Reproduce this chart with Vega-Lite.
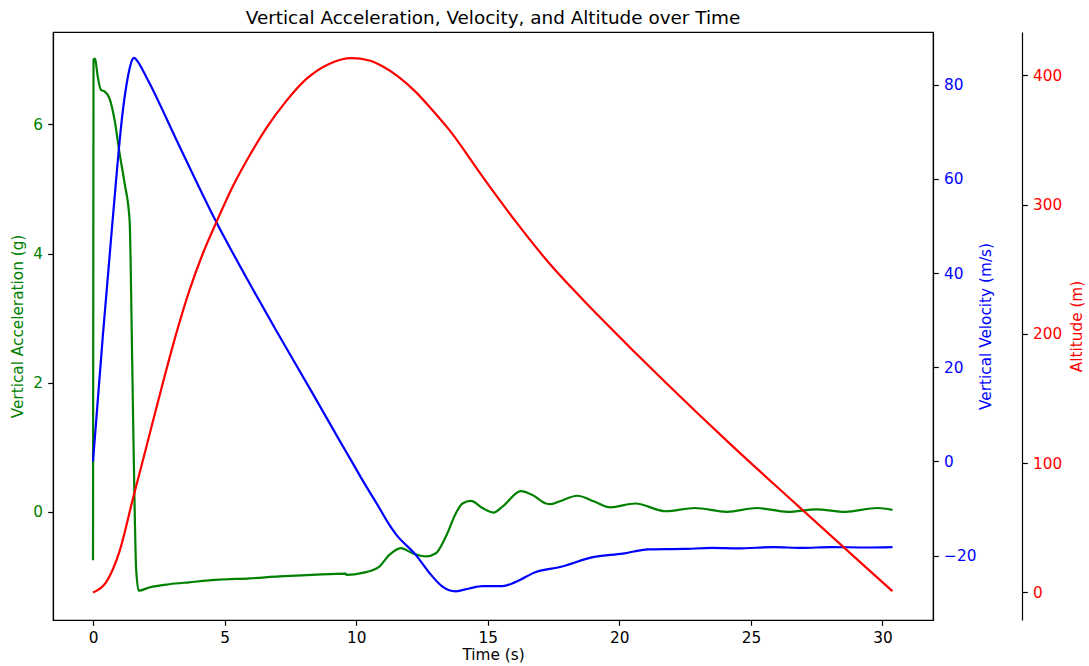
{
  "$schema": "https://vega.github.io/schema/vega-lite/v6.json",
  "width": 880,
  "height": 588,
  "autosize": "none",
  "padding": {"left": 53, "top": 32, "right": 156, "bottom": 46},
  "background": "white",
  "title": {"text": "Vertical Acceleration, Velocity, and Altitude over Time", "font": "DejaVu Sans", "fontSize": 18.4, "fontWeight": "normal", "color": "black", "anchor": "middle", "offset": 5},
  "config": {
    "view": {"stroke": "black", "strokeWidth": 1.2},
    "axis": {"grid": false, "domainColor": "black", "domainWidth": 1.2, "tickColor": "black", "tickWidth": 1.2, "tickSize": 5.3, "labelPadding": 5.3, "labelFont": "DejaVu Sans", "titleFont": "DejaVu Sans", "labelFontSize": 15.3, "titleFontSize": 15.3, "titleFontWeight": "normal", "labelColor": "black", "titleColor": "black"}
  },
  "datasets": {
    "acc": [
      {"t": 0, "a": -0.75}, {"t": 0.02, "a": 7.0}, {"t": 0.06, "a": 7.02}, {"t": 0.09, "a": 7.0}, {"t": 0.18, "a": 6.74},
      {"t": 0.31, "a": 6.53}, {"t": 0.44, "a": 6.51}, {"t": 0.63, "a": 6.4}, {"t": 0.82, "a": 6.07}, {"t": 1.01, "a": 5.55},
      {"t": 1.2, "a": 5.09}, {"t": 1.39, "a": 4.52}, {"t": 1.49, "a": 2.32}, {"t": 1.58, "a": 0.11}, {"t": 1.64, "a": -0.89},
      {"t": 1.74, "a": -1.22}, {"t": 2.14, "a": -1.17}, {"t": 2.9, "a": -1.12}, {"t": 3.66, "a": -1.09}, {"t": 4.8, "a": -1.05},
      {"t": 5.95, "a": -1.03}, {"t": 7.08, "a": -1.0}, {"t": 8.34, "a": -0.975}, {"t": 9.6, "a": -0.955}, {"t": 9.63, "a": -0.975},
      {"t": 10.24, "a": -0.945}, {"t": 10.87, "a": -0.85}, {"t": 11.25, "a": -0.67}, {"t": 11.7, "a": -0.56}, {"t": 12.14, "a": -0.64},
      {"t": 12.65, "a": -0.69}, {"t": 13.03, "a": -0.64}, {"t": 13.41, "a": -0.38}, {"t": 13.79, "a": -0.02}, {"t": 14.04, "a": 0.13},
      {"t": 14.36, "a": 0.17}, {"t": 14.8, "a": 0.06}, {"t": 15.22, "a": -0.01}, {"t": 15.56, "a": 0.08}, {"t": 16.26, "a": 0.32},
      {"t": 16.7, "a": 0.26}, {"t": 17.21, "a": 0.13}, {"t": 17.41, "a": 0.12}, {"t": 17.71, "a": 0.16}, {"t": 18.41, "a": 0.25},
      {"t": 19.05, "a": 0.16}, {"t": 19.66, "a": 0.07}, {"t": 20.61, "a": 0.13}, {"t": 21.77, "a": 0.01}, {"t": 22.86, "a": 0.06},
      {"t": 24.09, "a": 0.0}, {"t": 25.24, "a": 0.06}, {"t": 26.4, "a": 0.0}, {"t": 27.49, "a": 0.04}, {"t": 28.58, "a": 0.0},
      {"t": 29.81, "a": 0.06}, {"t": 30.38, "a": 0.03}
    ],
    "vel": [
      {"t": 0, "v": 0}, {"t": 0.37, "v": 26.4}, {"t": 0.75, "v": 51.5}, {"t": 1.13, "v": 74.3}, {"t": 1.39, "v": 83.4},
      {"t": 1.49, "v": 85.3}, {"t": 1.57, "v": 85.7}, {"t": 1.7, "v": 84.9}, {"t": 2.02, "v": 81.7}, {"t": 3.28, "v": 67.0},
      {"t": 4.68, "v": 50.9}, {"t": 5.81, "v": 39.2}, {"t": 6.95, "v": 27.9}, {"t": 8.34, "v": 14.5}, {"t": 9.36, "v": 4.5},
      {"t": 9.83, "v": 0}, {"t": 10.24, "v": -4.0}, {"t": 10.87, "v": -9.8}, {"t": 11.25, "v": -13.4}, {"t": 11.5, "v": -15.4},
      {"t": 12.27, "v": -19.9}, {"t": 12.77, "v": -23.6}, {"t": 13.28, "v": -26.6}, {"t": 13.78, "v": -27.6}, {"t": 14.29, "v": -27.0},
      {"t": 14.8, "v": -26.5}, {"t": 15.56, "v": -26.5}, {"t": 16.07, "v": -25.6}, {"t": 16.83, "v": -23.5}, {"t": 17.71, "v": -22.5},
      {"t": 19.05, "v": -20.3}, {"t": 20.13, "v": -19.6}, {"t": 21.09, "v": -18.7}, {"t": 22.45, "v": -18.6}, {"t": 23.54, "v": -18.4},
      {"t": 24.49, "v": -18.5}, {"t": 25.86, "v": -18.2}, {"t": 26.94, "v": -18.4}, {"t": 28.04, "v": -18.2}, {"t": 29.4, "v": -18.3},
      {"t": 30.38, "v": -18.2}
    ],
    "alt": [
      {"t": 0, "h": 0}, {"t": 0.5, "h": 8}, {"t": 1.01, "h": 32}, {"t": 1.51, "h": 72}, {"t": 2.02, "h": 112},
      {"t": 2.59, "h": 157}, {"t": 3.16, "h": 200}, {"t": 3.67, "h": 234}, {"t": 4.17, "h": 262}, {"t": 4.68, "h": 286},
      {"t": 5.31, "h": 314}, {"t": 5.95, "h": 338}, {"t": 6.58, "h": 359}, {"t": 7.34, "h": 380}, {"t": 8.1, "h": 397},
      {"t": 8.99, "h": 409}, {"t": 9.83, "h": 413.3}, {"t": 10.5, "h": 411.5}, {"t": 11.0, "h": 407}, {"t": 11.6, "h": 399},
      {"t": 12.27, "h": 387}, {"t": 12.9, "h": 373}, {"t": 13.53, "h": 358}, {"t": 14.79, "h": 322}, {"t": 16.06, "h": 287},
      {"t": 17.32, "h": 255}, {"t": 18.59, "h": 227}, {"t": 19.22, "h": 213.8}, {"t": 20.5, "h": 187.6}, {"t": 21.75, "h": 162.6},
      {"t": 24.28, "h": 113.6}, {"t": 26.81, "h": 66.6}, {"t": 29.34, "h": 20}, {"t": 30.38, "h": 1}
    ]
  },
  "encoding": {
    "x": {"field": "t", "type": "quantitative", "scale": {"domain": [-1.52, 31.92], "nice": false, "zero": false},
      "axis": {"title": "Time (s)", "values": [0, 5, 10, 15, 20, 25, 30], "titlePadding": 2}}
  },
  "layer": [
    {
      "data": {"name": "acc"},
      "mark": {"type": "line", "color": "#008000", "strokeWidth": 2.2, "interpolate": "monotone"},
      "encoding": {
        "y": {"field": "a", "type": "quantitative", "scale": {"domain": [-1.674, 7.43], "nice": false, "zero": false},
          "axis": {"orient": "left", "title": "Vertical Acceleration (g)", "values": [0, 2, 4, 6], "labelColor": "#008000", "titleColor": "#008000", "titlePadding": 7}}
      }
    },
    {
      "data": {"name": "vel"},
      "mark": {"type": "line", "color": "#0000ff", "strokeWidth": 2.2, "interpolate": "monotone"},
      "encoding": {
        "y": {"field": "v", "type": "quantitative", "scale": {"domain": [-33.7, 91.2], "nice": false, "zero": false},
          "axis": {"orient": "right", "title": "Vertical Velocity (m/s)", "values": [-20, 0, 20, 40, 60, 80], "labelColor": "#0000ff", "titleColor": "#0000ff", "titleAngle": 270, "titleBaseline": "top", "titlePadding": 3}}
      }
    },
    {
      "data": {"name": "alt"},
      "mark": {"type": "line", "color": "#ff0000", "strokeWidth": 2.2, "interpolate": "monotone"},
      "encoding": {
        "y": {"field": "h", "type": "quantitative", "scale": {"domain": [-21.3, 433.5], "nice": false, "zero": false},
          "axis": {"orient": "right", "offset": 89, "title": "Altitude (m)", "values": [0, 100, 200, 300, 400], "labelColor": "#ff0000", "titleColor": "#ff0000", "titleAngle": 270, "titleBaseline": "top", "titlePadding": 8}}
      }
    }
  ],
  "resolve": {"scale": {"y": "independent"}, "axis": {"y": "independent"}}
}
